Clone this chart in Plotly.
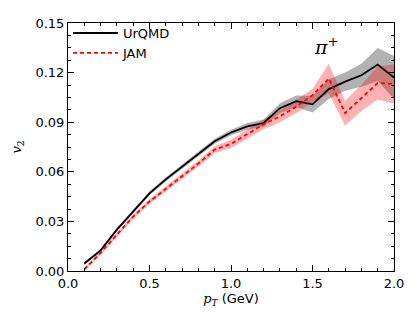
import plotly.graph_objects as go

pt = [0.1, 0.2, 0.3, 0.4, 0.5, 0.6, 0.7, 0.8, 0.9, 1.0, 1.1, 1.2, 1.3, 1.4, 1.5, 1.6, 1.7, 1.8, 1.9, 2.0]
urqmd = [0.0045, 0.0125, 0.0250, 0.0358, 0.0470, 0.0554, 0.0632, 0.0710, 0.0785, 0.0838, 0.0875, 0.0895, 0.0985, 0.1027, 0.1008, 0.1100, 0.1145, 0.1184, 0.1249, 0.1170]
urqmd_err = [0.0008, 0.0008, 0.0010, 0.0010, 0.0012, 0.0012, 0.0013, 0.0015, 0.0015, 0.0017, 0.0020, 0.0022, 0.0030, 0.0035, 0.0050, 0.0060, 0.0055, 0.0070, 0.0100, 0.0130]
jam = [0.0010, 0.0110, 0.0220, 0.0329, 0.0420, 0.0495, 0.0574, 0.0650, 0.0734, 0.0769, 0.0828, 0.0887, 0.0935, 0.0994, 0.1063, 0.1164, 0.0955, 0.1047, 0.1137, 0.1131]
jam_err = [0.0010, 0.0012, 0.0012, 0.0013, 0.0014, 0.0015, 0.0016, 0.0018, 0.0020, 0.0025, 0.0028, 0.0030, 0.0035, 0.0040, 0.0040, 0.0090, 0.0075, 0.0080, 0.0100, 0.0120]

fig = go.Figure()

def band(x, y, e, color):
    up = [a + b for a, b in zip(y, e)]
    lo = [a - b for a, b in zip(y, e)]
    return go.Scatter(x=x + x[::-1], y=up + lo[::-1], fill="toself", fillcolor=color,
                      line=dict(width=0), mode="lines", showlegend=False, hoverinfo="skip")

fig.add_trace(band(pt, urqmd, urqmd_err, "rgba(0,0,0,0.3)"))
fig.add_trace(band(pt, jam, jam_err, "rgba(255,0,0,0.3)"))
fig.add_trace(go.Scatter(x=pt, y=urqmd, mode="lines", name="UrQMD",
                         line=dict(color="black", width=1.8)))
fig.add_trace(go.Scatter(x=pt, y=jam, mode="lines", name="JAM",
                         line=dict(color="red", width=1.8, dash="4px,3px")))

axis_common = dict(showline=True, linecolor="black", linewidth=1, mirror="allticks",
                   ticks="inside", ticklen=6, tickcolor="black", showgrid=False, zeroline=False,
                   tickfont=dict(family="DejaVu Sans", size=13, color="black"))

fig.update_xaxes(range=[0, 2.0], dtick=0.5, tickformat=".1f",
                 minor=dict(ticks="inside", dtick=0.1, ticklen=3, tickcolor="black"),
                 title=dict(text="<span style='font-family:DejaVu Serif'><i>p</i><sub><i>T</i></sub></span> (GeV)",
                            standoff=4, font=dict(family="DejaVu Sans", size=13, color="black")),
                 **axis_common)
fig.update_yaxes(range=[0, 0.15], dtick=0.03, tickformat=".2f",
                 minor=dict(ticks="inside", dtick=0.0075, ticklen=3, tickcolor="black"),
                 title=dict(text="<i>v</i><sub>2</sub>", standoff=10,
                            font=dict(family="DejaVu Serif", size=13, color="black")),
                 **axis_common)

fig.add_annotation(x=1.585, y=0.136, text="<i>π</i><sup>+</sup>", showarrow=False,
                   font=dict(family="DejaVu Serif", size=19, color="black"))

fig.update_layout(
    width=407, height=304,
    margin=dict(l=54, r=21, t=8, b=33),
    plot_bgcolor="white", paper_bgcolor="white",
    legend=dict(x=0.0, y=1.02, xanchor="left", yanchor="top", bgcolor="rgba(0,0,0,0)",
                itemwidth=45, tracegroupgap=0,
                font=dict(family="DejaVu Sans", size=13, color="black")),
)

fig.write_html("out.html")
